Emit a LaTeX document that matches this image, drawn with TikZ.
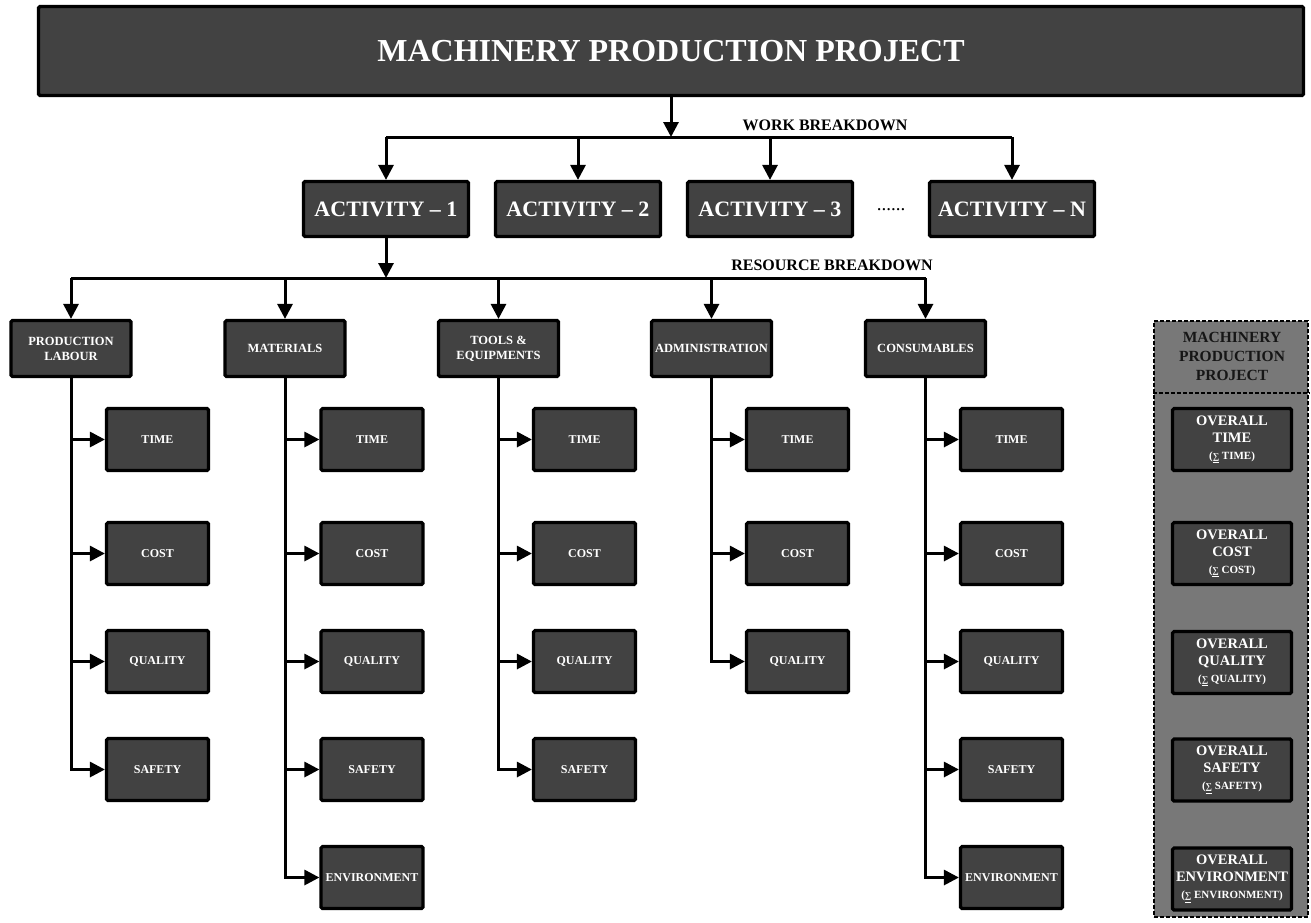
\documentclass[tikz,border=0pt]{standalone}
\usepackage{fontspec}
\setmainfont{Liberation Serif}
\usetikzlibrary{arrows.meta}
\definecolor{boxgray}{HTML}{424242}
\definecolor{panelgray}{HTML}{787878}
\definecolor{headtext}{HTML}{161616}
\newcommand{\subtxt}[1]{{\fontsize{11}{13}\selectfont (\underline{\fontsize{9}{10}\selectfont ∑} #1)}}
\begin{document}
\begin{tikzpicture}[x=1pt,y=-1pt,
  box/.style={draw=black, line width=3.2pt, fill=boxgray, rounded corners=1.5pt,
    text=white, align=center, inner sep=0pt},
  titlebox/.style={box, minimum width=1265pt, minimum height=89pt,
    font=\fontsize{32}{38}\selectfont\bfseries},
  actbox/.style={box, minimum width=165pt, minimum height=55pt,
    font=\fontsize{22}{26}\selectfont\bfseries},
  resbox/.style={box, minimum width=120pt, minimum height=56pt,
    font=\fontsize{12.5}{15}\selectfont\bfseries},
  kidbox/.style={box, minimum width=102pt, minimum height=62pt,
    font=\fontsize{12}{15}\selectfont\bfseries},
  sumbox/.style={box, minimum width=119pt, minimum height=62pt,
    font=\fontsize{14.5}{17}\selectfont\bfseries},
  lbl/.style={font=\fontsize{16}{18}\selectfont\bfseries, text=black},
  line/.style={draw=black, line width=3pt},
  conn/.style={line, -{Triangle[length=15pt,width=15pt]}},
  panel/.style={draw=black, line width=2.5pt, fill=panelgray, dash pattern=on 4pt off 2pt,
    minimum width=154pt, minimum height=596pt, inner sep=0pt},
]
\useasboundingbox (0,0) rectangle (1311,922);

% top
\node[titlebox] (top) at (671,51) {MACHINERY PRODUCTION PROJECT};

% activities
\node[actbox] (a1) at (386,209) {ACTIVITY -- 1};
\node[actbox] (a2) at (578,209) {ACTIVITY -- 2};
\node[actbox] (a3) at (770,209) {ACTIVITY -- 3};
\node[actbox] (an) at (1012,209) {ACTIVITY -- N};
\node[font=\fontsize{19}{20}\selectfont, inner sep=0pt] (dots) at (891,210) {......};

\coordinate (wb) at (671,137);
\node[lbl] (wbl) at (825,125) {WORK BREAKDOWN};
\draw[conn] (top.south) -- (wb);
\draw[line] (a1.north |- wb) -- (an.north |- wb);
\foreach \a in {a1,a2,a3,an} \draw[conn] (\a.north |- wb) -- (\a.north);

% resources
\node[resbox] (r1) at (71,348.5) {PRODUCTION\\LABOUR};
\node[resbox] (r2) at (285,348.5) {MATERIALS};
\node[resbox] (r3) at (498.5,348.5) {TOOLS \&\\EQUIPMENTS};
\node[resbox] (r4) at (711.5,348.5) {ADMINISTRATION};
\node[resbox] (r5) at (925.5,348.5) {CONSUMABLES};

\coordinate (rb) at (386,278);
\node[lbl] (rbl) at (832,265) {RESOURCE BREAKDOWN};
\draw[conn] (a1.south) -- (rb);
\draw[line] (r1.north |- rb) -- (r5.north |- rb);
\foreach \r in {r1,r2,r3,r4,r5} \draw[conn] (\r.north |- rb) -- (\r.north);

% children
\foreach \r/\x in {r1/157.5,r2/372,r3/584.5,r4/797.5,r5/1011.5}{
  \node[kidbox] (\r t) at (\x,439.5) {TIME};
  \node[kidbox] (\r c) at (\x,553.5) {COST};
  \node[kidbox] (\r q) at (\x,661.5) {QUALITY};
  \draw[conn] (\r.south) |- (\r t.west);
  \draw[conn] (\r.south) |- (\r c.west);
  \draw[conn] (\r.south) |- (\r q.west);
}
\foreach \r/\x in {r1/157.5,r2/372,r3/584.5,r5/1011.5}{
  \node[kidbox] (\r s) at (\x,769.5) {SAFETY};
  \draw[conn] (\r.south) |- (\r s.west);
}
\foreach \r/\x in {r2/372,r5/1011.5}{
  \node[kidbox] (\r e) at (\x,877.5) {ENVIRONMENT};
  \draw[conn] (\r.south) |- (\r e.west);
}

% summary panel
\node[panel] (pan) at (1231,619) {};
\coordinate (divl) at (1153,393);
\draw[draw=black, line width=2.5pt, dash pattern=on 4pt off 2pt] (divl -| pan.west) -- (divl -| pan.east);
\node[align=center, text=headtext, font=\fontsize{15.5}{19}\selectfont\bfseries] (ph) at (1232,356) {MACHINERY\\PRODUCTION\\PROJECT};

\node[sumbox] (st) at (1232,439.5) {OVERALL\\TIME\\\subtxt{TIME}};
\node[sumbox] (sc) at (1232,553.5) {OVERALL\\COST\\\subtxt{COST}};
\node[sumbox] (sq) at (1232,662.5) {OVERALL\\QUALITY\\\subtxt{QUALITY}};
\node[sumbox] (ss) at (1232,770) {OVERALL\\SAFETY\\\subtxt{SAFETY}};
\node[sumbox] (se) at (1232,879) {OVERALL\\ENVIRONMENT\\\subtxt{ENVIRONMENT}};
\end{tikzpicture}
\end{document}
